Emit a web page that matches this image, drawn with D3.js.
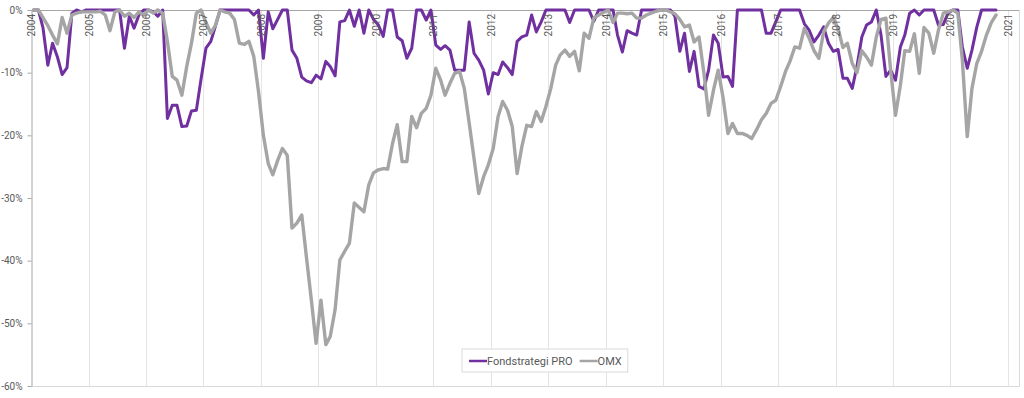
<!DOCTYPE html>
<html>
<head>
<meta charset="utf-8">
<script src="https://cdn.jsdelivr.net/npm/d3@7"></script>
<style>
	body { margin: 0; background: #fff; }
	text { font-family: Roboto, "Liberation Sans", sans-serif; fill: #595959; }
</style>
</head>
<body>
<div class="main"></div>
<script>
//Canvas config
var width = 1024;
var height = 398;
var margin = {top: 10, right: 5, bottom: 12, left: 31};

//data: monthly drawdown in %, starting jan 2004
var startYear = 2004;
var seriesNames = ["Fondstrategi PRO", "OMX"];
var seriesColors = ["#7030a0", "#a5a5a5"];
var yTicks = [0, -10, -20, -30, -40, -50, -60];

var fundValues = [
	0, 0, -2.8, -8.8, -5.3, -7.5, -10.3, -9.2, -0.5, 0, -0.3, 0,            //2004
	0, 0, 0, 0, 0, 0, 0, -6.1, -1, -2.9, -0.8, 0,                           //2005
	0, -0.3, -1, 0, -17.3, -15.2, -15.2, -18.6, -18.5, -16.1, -16, -11,     //2006
	-6.1, -5, -2.7, 0, 0, 0, 0, 0, 0, 0, -0.8, 0,                           //2007
	-7.7, -0.3, -3, -1.5, 0, 0, -6.4, -7.7, -10.7, -11.3, -11.6, -10.4,     //2008
	-11, -8.2, -9, -10.5, -1.9, -1.7, 0, -2.6, 0, -3.7, 0, -1.5,            //2009
	-2.4, -4.2, 0, 0, -4.3, -4.9, -7.7, -6.1, 0, 0, -1.6, 0,                //2010
	-5.6, -6.3, -5.7, -6.4, -9.6, -9.6, -9.6, -1.9, -6.9, -8, -9.6, -13.4,  //2011
	-10, -10.3, -8.3, -9.2, -10.3, -5, -4.3, -4, -0.8, -3.5, -1.9, 0,       //2012
	0, 0, 0, 0, -2, 0, 0, 0, 0, -1.8, 0, 0,                                 //2013
	0, 0, -4, -6.7, -3.3, -3.7, -4, 0, 0, 0, 0, 0,                          //2014
	0, 0, -1, -6.6, -3.7, -9.8, -6.6, -12.2, -12.6, -9.6, -4, -5.3,         //2015
	-10.7, -10.6, -12.2, 0, 0, 0, 0, 0, 0, -3.7, -3.7, -1.9,                //2016
	0, 0, 0, 0, 0, -2.2, -3.2, -5.1, -4, -2.7, -5.3, -6.6,                  //2017
	-6.3, -10.9, -10.9, -12.5, -9, -4.3, -2.4, -1.9, 0, -4, -10.6, -9.6,    //2018
	-11.2, -5.9, -4, -0.5, 0, -0.8, 0, 0, 0, -2.4, -2.3, -0.5,              //2019
	0, 0, -5.9, -9.3, -6.4, -2.7, 0, 0, 0, 0                                //2020
];

var omxValues = [
	0, 0, -1.2, -2.5, -4, -5.4, -1.2, -3.7, -0.8, -0.5, -0.3, -0.3,                 //2004
	-0.3, -0.3, -0.2, -0.8, -3.3, -0.3, 0, -1, -0.5, -1.2, -0.3, -0.8,              //2005
	0, -0.5, 0, -0.5, -5, -10.6, -11.2, -13.6, -9, -5.3, -0.5, 0,                   //2006
	-2, -3.7, -2.5, 0, -0.3, -0.5, -1.5, -5.3, -5.5, -5, -7.4, -13,                 //2007
	-20, -24.5, -26.3, -24, -22.1, -23.2, -34.8, -34, -32.7, -39.5, -46.3, -53.2,   //2008
	-46.3, -53.4, -52.1, -47.8, -39.9, -38.5, -37.2, -30.8, -31.5, -32.2, -27.9, -26, //2009
	-25.5, -25.3, -25.4, -21.3, -18.3, -24.2, -24.2, -17, -18.8, -16.5, -15.7, -13.6, //2010
	-9.3, -11.2, -13.6, -11.7, -10.1, -9.8, -12.5, -18, -23.7, -29.3, -26.6, -24.7, //2011
	-22.1, -17, -14.6, -16, -18.6, -26.1, -21.8, -18.4, -18.6, -16.2, -17.8, -15.4, //2012
	-12.5, -8.8, -7.2, -6.4, -7.4, -6.6, -9.7, -3.7, -4.5, -1.3, -0.8, -0.4,        //2013
	0, -2, -0.5, -0.5, -0.6, -0.5, -1.3, -1.3, -0.8, -0.5, -0.2, 0,                 //2014
	0, -0.3, -0.6, -1.5, -2.7, -2.4, -5.1, -4.3, -10, -16.8, -12.8, -9.6,           //2015
	-14, -19.7, -18.1, -19.7, -19.7, -20, -20.5, -19.1, -17.5, -16.5, -14.9, -14.4, //2016
	-12.2, -9.8, -8.2, -5.9, -6.1, -2.9, -4.5, -6.5, -7.7, -3.5, -2.1, -1.2,        //2017
	-3, -6, -5.3, -8.5, -10, -6.5, -7.5, -8.8, -4.3, -1.5, -1.3, -9.6,              //2018
	-16.8, -12, -6.5, -6.6, -3.8, -10.1, -2.8, -3.7, -6.9, -3.2, -0.5, -0.3,        //2019
	0, -0.5, -8, -20.2, -12.5, -8.5, -6.6, -4, -2, -0.8                             //2020
];

var svg = d3.select(".main")
	.append("svg")
	.attr("width", width)
	.attr("height", height);

var xScale = d3.scaleTime()
	.domain([new Date(startYear, 0, 1), new Date(2021, 2, 12)])
	.range([margin.left, width - margin.right]);

var yScale = d3.scaleLinear()
	.domain([-60, 0])
	.range([height - margin.bottom, margin.top]);

var years = d3.timeYear.range(new Date(startYear, 0, 1), new Date(2021, 1, 1));

//vertical year gridlines
svg.append("g")
	.attr("class", "grid")
	.selectAll("line")
	.data(years.slice(1))
	.enter()
	.append("line")
	.attr("x1", function(d) { return Math.round(xScale(d)) + 0.5; })
	.attr("x2", function(d) { return Math.round(xScale(d)) + 0.5; })
	.attr("y1", yScale(0))
	.attr("y2", yScale(-60))
	.style("stroke", "#e4e4e4")
	.style("stroke-width", 1);

//plot area border right + bottom
svg.append("path")
	.attr("d", "M" + xScale.range()[0] + "," + (yScale(-60) + 0.5) + "H" + (xScale.range()[1] + 0.5) + "V" + yScale(0))
	.style("fill", "none")
	.style("stroke", "#d9d9d9");

//y axis
var yAxis = d3.axisLeft()
	.scale(yScale)
	.tickValues(yTicks)
	.tickSize(4)
	.tickSizeOuter(0)
	.tickPadding(5)
	.tickFormat(function(d) { return d + "%"; });

var yAxisG = svg.append("g")
	.attr("class", "y-axis")
	.attr("transform", "translate(" + (margin.left + 0.5) + ",0)")
	.call(yAxis);
yAxisG.select(".domain").style("stroke", "#a6a6a6");
yAxisG.selectAll(".tick line").style("stroke", "#a6a6a6");
yAxisG.selectAll(".tick text")
	.style("font-size", "10px")
	.style("fill", "#595959")
	.style("font-family", "Roboto, sans-serif");

//x axis line at 0%
svg.append("line")
	.attr("x1", xScale.range()[0])
	.attr("x2", xScale.range()[1])
	.attr("y1", yScale(0) + 0.5)
	.attr("y2", yScale(0) + 0.5)
	.style("stroke", "#a6a6a6");

//series lines
var months = fundValues.map(function(v, i) { return new Date(startYear, i, 17); });
var line = d3.line()
	.x(function(d, i) { return xScale(months[i]); })
	.y(function(d) { return yScale(d); });

[fundValues, omxValues].forEach(function(values, k) {
	svg.append("path")
		.datum(values)
		.attr("class", "series")
		.attr("d", line)
		.style("fill", "none")
		.style("stroke", seriesColors[k])
		.style("stroke-width", k == 0 ? 3 : 3.4)
		.style("stroke-linejoin", "round")
		.style("stroke-linecap", "round");
});

//year labels (rotated, under the 0% line)
svg.append("g")
	.attr("class", "x-labels")
	.selectAll("text")
	.data(years)
	.enter()
	.append("text")
	.text(function(d) { return d.getFullYear(); })
	.attr("transform", function(d) { return "translate(" + (xScale(d) + 0.5) + "," + (yScale(0) + 4) + ") rotate(-90)"; })
	.attr("text-anchor", "end")
	.attr("dy", "0.35em")
	.style("font-size", "10px");

//legend
var legend = svg.append("g")
	.attr("class", "legend")
	.attr("transform", "translate(462,349)");
var legendBox = legend.append("rect")
	.attr("height", 23)
	.style("fill", "#fff")
	.style("stroke", "#d9d9d9");
var lx = 7;
seriesNames.forEach(function(name, k) {
	legend.append("line")
		.attr("x1", lx)
		.attr("x2", lx + 18)
		.attr("y1", 12)
		.attr("y2", 12)
		.style("stroke", seriesColors[k])
		.style("stroke-width", 2.5);
	var t = legend.append("text")
		.text(name)
		.attr("x", lx + 18)
		.attr("y", 12)
		.attr("dy", "0.35em")
		.style("font-size", "11px");
	lx = lx + 18 + t.node().getComputedTextLength() + 7;
});
legendBox.attr("width", lx - 1);
</script>
</body>
</html>
